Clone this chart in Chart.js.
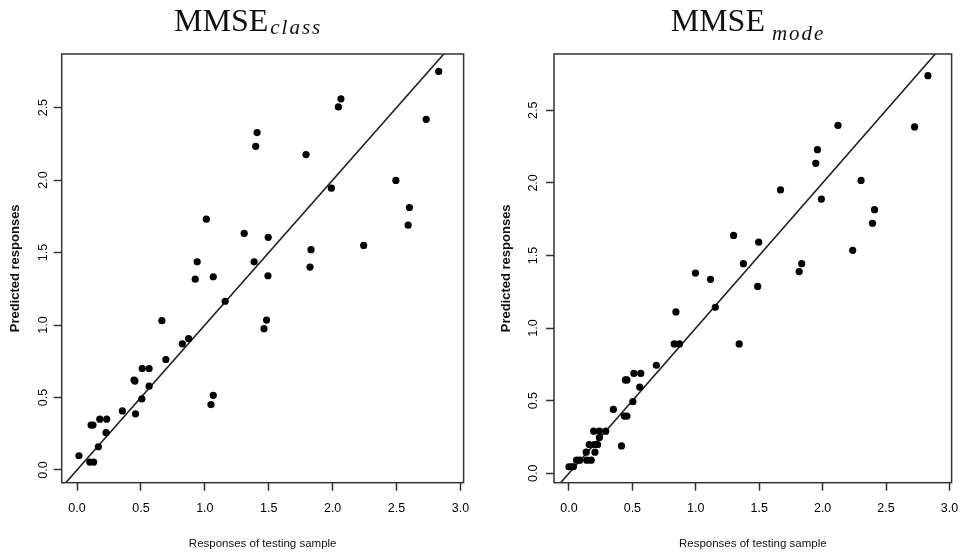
<!DOCTYPE html>
<html>
<head>
<meta charset="utf-8">
<script src="https://cdn.jsdelivr.net/npm/chart.js@4.4.1/dist/chart.umd.min.js"></script>
<style>
  html, body { margin: 0; padding: 0; background: #ffffff; }
  #wrap { position: relative; width: 969px; height: 556px; overflow: hidden; }
  #c1 { position: absolute; left: 0; top: 0; }
  #c2 { position: absolute; left: 480px; top: 0; }
</style>
</head>
<body>
<div id="wrap">
  <canvas id="c1" width="480" height="556"></canvas>
  <canvas id="c2" width="489" height="556"></canvas>
</div>
<script>
// ---- data ----
const classX = [0.015, 0.10, 0.13, 0.11, 0.125, 0.167, 0.178, 0.232, 0.227, 0.355, 0.446, 0.453, 0.458, 0.507, 0.51, 0.564, 0.564, 0.664, 0.695, 0.824, 0.873, 0.925, 0.94, 1.012, 1.048, 1.066, 1.066, 1.159, 1.308, 1.386, 1.398, 1.409, 1.463, 1.483, 1.494, 1.496, 1.792, 1.823, 1.831, 1.99, 2.045, 2.065, 2.243, 2.495, 2.591, 2.601, 2.732, 2.83];
const classY = [0.098, 0.054, 0.054, 0.31, 0.31, 0.16, 0.35, 0.35, 0.257, 0.407, 0.62, 0.613, 0.387, 0.49, 0.70, 0.70, 0.578, 1.03, 0.762, 0.87, 0.907, 1.316, 1.436, 1.73, 0.451, 0.515, 1.333, 1.164, 1.632, 1.436, 2.233, 2.328, 0.975, 1.034, 1.34, 1.605, 2.176, 1.40, 1.52, 1.944, 2.505, 2.561, 1.549, 1.998, 1.689, 1.811, 2.419, 2.75];

const modeX = [0.0, 0.02, 0.035, 0.06, 0.085, 0.136, 0.14, 0.175, 0.16, 0.195, 0.205, 0.2, 0.226, 0.24, 0.24, 0.29, 0.35, 0.414, 0.437, 0.457, 0.445, 0.457, 0.504, 0.512, 0.566, 0.558, 0.689, 0.83, 0.843, 0.871, 0.997, 1.116, 1.154, 1.298, 1.342, 1.375, 1.488, 1.496, 1.668, 1.815, 1.835, 1.946, 1.959, 1.99, 2.121, 2.237, 2.303, 2.393, 2.409, 2.725, 2.83];
const modeY = [0.045, 0.045, 0.045, 0.09, 0.09, 0.145, 0.09, 0.09, 0.198, 0.29, 0.145, 0.198, 0.198, 0.29, 0.246, 0.29, 0.44, 0.188, 0.394, 0.394, 0.643, 0.643, 0.493, 0.688, 0.688, 0.594, 0.744, 0.891, 1.111, 0.891, 1.379, 1.336, 1.143, 1.638, 0.891, 1.444, 1.287, 1.592, 1.952, 1.389, 1.444, 2.135, 2.229, 1.889, 2.396, 1.536, 2.017, 1.722, 1.816, 2.386, 2.739];

const xTicks = [0.0, 0.5, 1.0, 1.5, 2.0, 2.5, 3.0];
const yTicks = [0.0, 0.5, 1.0, 1.5, 2.0, 2.5];
const identityX = [-0.5, 3.5];   // y = x reference line

const xTitleText = 'Responses of testing sample';
const yTitleText = 'Predicted responses';

// ---- plugins ----
const framePlugin = {
  id: 'frame',
  afterDraw(chart) {
    const a = chart.chartArea, ctx = chart.ctx;
    ctx.save();
    ctx.strokeStyle = '#333333';
    ctx.lineWidth = 1.5;
    ctx.strokeRect(a.left, a.top, a.right - a.left, a.bottom - a.top);
    ctx.restore();
  }
};

const texTitlePlugin = {
  id: 'texTitle',
  afterDraw(chart, args, opts) {
    const ctx = chart.ctx;
    ctx.save();
    ctx.fillStyle = '#111111';
    ctx.textBaseline = 'alphabetic';
    ctx.textAlign = 'left';
    ctx.font = '32px "Liberation Serif", "Times New Roman", serif';
    ctx.fillText(opts.main, opts.x, opts.y);
    const w = ctx.measureText(opts.main).width;
    ctx.font = 'italic 21px "Liberation Serif", "Times New Roman", serif';
    if ('letterSpacing' in ctx) ctx.letterSpacing = '2px';
    ctx.fillText(opts.sub, opts.x + w + opts.gap, opts.y + opts.subDy);
    ctx.restore();
  }
};

function makeChart(canvasId, xs, ys, cfg) {
  const pts = xs.map((x, i) => ({ x: x, y: ys[i] }));
  const linePts = identityX.map(v => ({ x: v, y: v }));
  return new Chart(document.getElementById(canvasId), {
    type: 'scatter',
    data: {
      datasets: [
        {
          type: 'line',
          data: linePts,
          borderColor: '#222222',
          borderWidth: 1.6,
          pointRadius: 0,
          fill: false,
          clip: 0,
          order: 1
        },
        {
          data: pts,
          backgroundColor: '#000000',
          borderColor: '#000000',
          borderWidth: 0,
          pointRadius: 3.6,
          pointHoverRadius: 3.6,
          order: 0
        }
      ]
    },
    options: {
      responsive: false,
      animation: false,
      devicePixelRatio: 1,
      events: [],
      layout: { padding: { top: 54, right: cfg.padRight, left: 0, bottom: 0 } },
      plugins: {
        legend: { display: false },
        tooltip: { enabled: false },
        texTitle: cfg.title
      },
      scales: {
        x: {
          type: 'linear',
          min: cfg.xMin, max: cfg.xMax,
          afterBuildTicks: s => { s.ticks = xTicks.map(v => ({ value: v })); },
          afterFit: s => { s.height = cfg.xAxisH; },
          border: { display: false },
          grid: { drawOnChartArea: false, drawTicks: true, tickLength: 8, tickColor: '#333333', tickWidth: 1.5 },
          ticks: {
            callback: v => Number(v).toFixed(1),
            color: '#000000',
            font: { family: '"Liberation Sans", Arial, sans-serif', size: 12.5 },
            padding: 10.8,
            maxRotation: 0, minRotation: 0,
            autoSkip: false
          },
          title: {
            display: true,
            text: xTitleText,
            color: '#111111',
            font: { family: '"Liberation Sans", Arial, sans-serif', size: 11.5 },
            padding: { top: 0, bottom: 5 }
          }
        },
        y: {
          type: 'linear',
          min: cfg.yMin, max: cfg.yMax,
          afterBuildTicks: s => { s.ticks = yTicks.map(v => ({ value: v })); },
          afterFit: s => { s.width = cfg.yAxisW; },
          border: { display: false },
          grid: { drawOnChartArea: false, drawTicks: true, tickLength: 8, tickColor: '#333333', tickWidth: 1.5 },
          ticks: {
            callback: v => Number(v).toFixed(1),
            color: '#000000',
            font: { family: '"Liberation Sans", Arial, sans-serif', size: 12.5 },
            padding: cfg.yTickPad,
            minRotation: 90, maxRotation: 90,
            crossAlign: 'center',
            autoSkip: false
          },
          title: {
            display: true,
            text: yTitleText,
            color: '#111111',
            font: { family: '"Liberation Sans", Arial, sans-serif', size: 13, weight: 'bold' },
            padding: { top: cfg.yTitlePad, bottom: 0 }
          }
        }
      }
    },
    plugins: [framePlugin, texTitlePlugin]
  });
}

makeChart('c1', classX, classY, {
  xMin: -0.12, xMax: 3.025, yMin: -0.088, yMax: 2.87,
  padRight: 10.7, yAxisW: 61.7, xAxisH: 73.3, yTickPad: 1.7, yTitlePad: 7.2,
  title: { main: 'MMSE', sub: 'class', x: 174, y: 31, gap: 2, subDy: 2.5 }
});

makeChart('c2', modeX, modeY, {
  xMin: -0.118, xMax: 3.017, yMin: -0.065, yMax: 2.888,
  padRight: 9, yAxisW: 74, xAxisH: 73.3, yTickPad: 4, yTitlePad: 18.9,
  title: { main: 'MMSE', sub: 'mode', x: 190.7, y: 31, gap: 7, subDy: 9 }
});
</script>
</body>
</html>
